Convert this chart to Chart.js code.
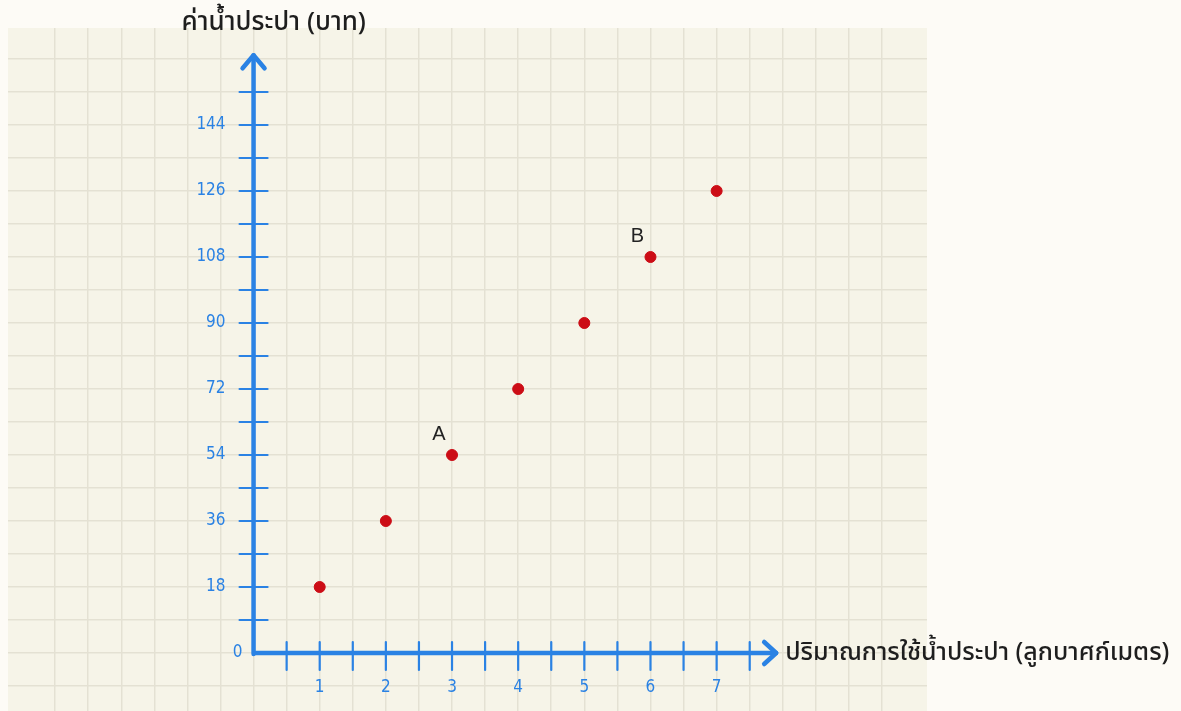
<!DOCTYPE html>
<html>
<head>
<meta charset="utf-8">
<script src="https://cdn.jsdelivr.net/npm/chart.js@4"></script>
<style>
  html, body { margin: 0; padding: 0; background: #fdfbf6; overflow: hidden; }
  canvas { display: block; }
</style>
</head>
<body>
<canvas id="c" width="1181" height="711" style="width:1181px;height:711px"></canvas>
<script>
// ---- data ----
const waterUsage = [1, 2, 3, 4, 5, 6, 7];            // ลูกบาศก์เมตร
const waterCost  = [18, 36, 54, 72, 90, 108, 126];   // บาท
const xTickLabels = [1, 2, 3, 4, 5, 6, 7];
const yTickLabels = [18, 36, 54, 72, 90, 108, 126, 144];
const pointNames = { 3: 'A', 6: 'B' };
const xTitle = 'ปริมาณการใช้น้ำประปา (ลูกบาศก์เมตร)';
const yTitle = 'ค่าน้ำประปา (บาท)';

const AXIS = '#2a82e4';
const THAI = '"Noto Sans Thai", "Noto Sans Thai UI", "Noto Sans", "DejaVu Sans", sans-serif';

function onStep(v, step) {
  const r = v / step;
  return Math.abs(r - Math.round(r)) < 1e-6;
}

const paperPlugin = {
  id: 'paper',
  beforeDraw(chart) {
    const { ctx, chartArea: a } = chart;
    ctx.save();
    ctx.fillStyle = '#f6f4e8';
    ctx.fillRect(a.left, a.top, a.right - a.left, a.bottom - a.top);
    ctx.restore();
  }
};

const axesPlugin = {
  id: 'handAxes',
  afterDatasetsDraw(chart) {
    const { ctx } = chart;
    const xs = chart.scales.x, ys = chart.scales.y;
    const x0 = xs.getPixelForValue(0), y0 = ys.getPixelForValue(0);
    ctx.save();
    ctx.strokeStyle = AXIS;
    ctx.lineCap = 'round';
    ctx.lineJoin = 'round';

    // minor/major ticks
    ctx.lineWidth = 2.2;
    for (let v = 0.5; v <= 7.5 + 1e-9; v += 0.5) {
      const px = xs.getPixelForValue(v);
      ctx.beginPath(); ctx.moveTo(px, y0 - 11); ctx.lineTo(px, y0 + 17); ctx.stroke();
    }
    for (let v = 9; v <= 153 + 1e-9; v += 9) {
      const py = ys.getPixelForValue(v);
      ctx.beginPath(); ctx.moveTo(x0 - 14, py); ctx.lineTo(x0 + 14, py); ctx.stroke();
    }

    // axis lines
    ctx.lineWidth = 4.5;
    const yTip = ys.getPixelForValue(163);
    const xTip = xs.getPixelForValue(7.9);
    ctx.beginPath();
    ctx.moveTo(x0, y0 + 1); ctx.lineTo(x0, yTip);
    ctx.moveTo(x0, y0); ctx.lineTo(xTip, y0);
    ctx.stroke();
    // arrow heads
    ctx.beginPath();
    ctx.moveTo(x0 - 11, yTip + 13); ctx.lineTo(x0, yTip); ctx.lineTo(x0 + 11, yTip + 13);
    ctx.moveTo(xTip - 12, y0 - 11); ctx.lineTo(xTip, y0); ctx.lineTo(xTip - 12, y0 + 11);
    ctx.stroke();

    // tick labels
    ctx.fillStyle = AXIS;
    ctx.font = '17px "DejaVu Sans Condensed", sans-serif';
    ctx.textAlign = 'center';
    ctx.textBaseline = 'middle';
    xTickLabels.forEach(v => ctx.fillText(String(v), xs.getPixelForValue(v), y0 + 35));
    ctx.fillText('0', x0 - 16, y0);
    ctx.textAlign = 'right';
    yTickLabels.forEach(v => ctx.fillText(String(v), x0 - 28, ys.getPixelForValue(v)));

    // point names
    ctx.fillStyle = '#222';
    ctx.font = '20px "Liberation Sans", Arial, sans-serif';
    ctx.textAlign = 'center';
    waterUsage.forEach((xv, i) => {
      if (pointNames[xv]) {
        ctx.fillText(pointNames[xv], xs.getPixelForValue(xv) - 13, ys.getPixelForValue(waterCost[i]) - 21);
      }
    });

    // axis titles
    ctx.fillStyle = '#1e1e1e';
    ctx.font = '500 25px ' + THAI;
    ctx.textAlign = 'left';
    ctx.fillText(xTitle, xTip + 9, y0 + 2);
    ctx.font = '500 26px ' + THAI;
    ctx.fillText(yTitle, x0 - 72, 25);
    ctx.restore();
  }
};

const gridColor = (step) => (c) => (c.tick && onStep(c.tick.value, step)) ? '#e4e1d3' : 'rgba(0,0,0,0)';

new Chart(document.getElementById('c'), {
  type: 'scatter',
  data: {
    datasets: [{
      data: waterUsage.map((x, i) => ({ x, y: waterCost[i] })),
      backgroundColor: '#cc0d16',
      borderColor: '#cc0d16',
      pointRadius: 5.5,
      pointHoverRadius: 5.5
    }]
  },
  options: {
    responsive: false,
    devicePixelRatio: 1,
    animation: false,
    layout: { autoPadding: false, padding: { left: 8, top: 28, right: 254, bottom: 0 } },
    plugins: { legend: { display: false }, tooltip: { enabled: false } },
    scales: {
      x: {
        type: 'linear',
        min: -3.712, max: 10.18,
        ticks: { display: false, stepSize: 0.5 },
        grid: { color: gridColor(0.5), lineWidth: 1.5, drawTicks: false },
        border: { display: false },
        afterFit(s) { s.height = 0; }
      },
      y: {
        type: 'linear',
        min: -15.82, max: 170.45,
        ticks: { display: false, stepSize: 9 },
        grid: { color: gridColor(9), lineWidth: 1.5, drawTicks: false },
        border: { display: false },
        afterFit(s) { s.width = 0; }
      }
    }
  },
  plugins: [paperPlugin, axesPlugin]
});
</script>
</body>
</html>
